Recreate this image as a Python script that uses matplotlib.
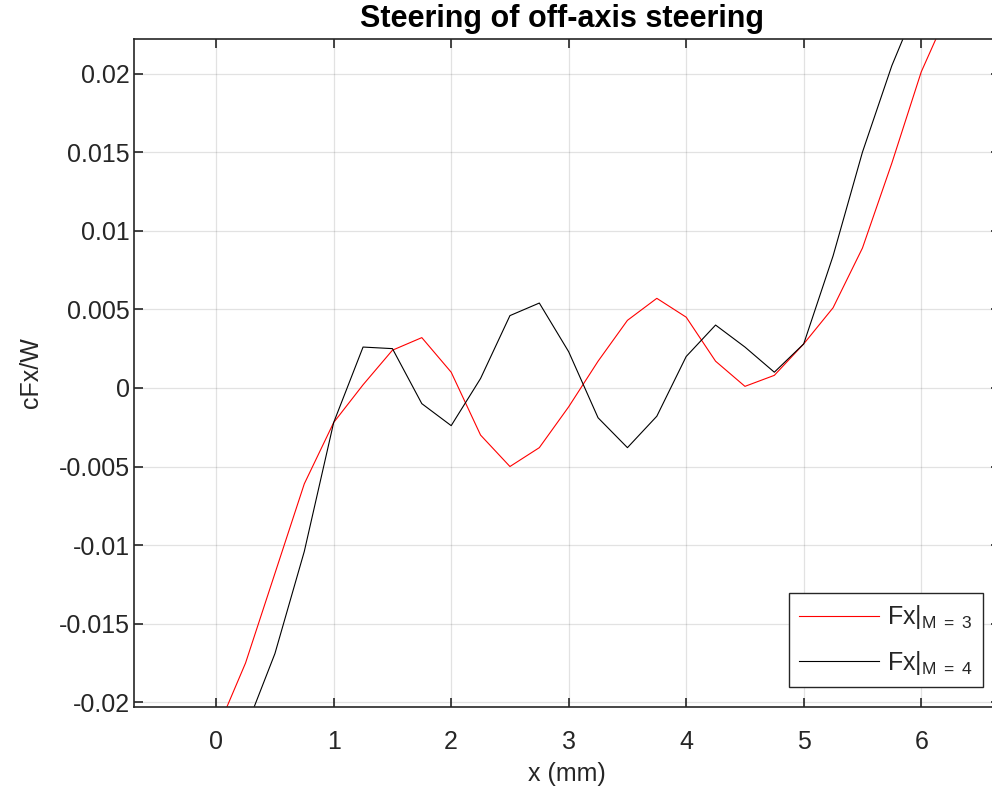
# plots the steering force coefficient against lateral offset

import matplotlib
matplotlib.use('Agg')
from matplotlib import pyplot as plot

# ***************************** Data *****************************
x_mm = [0.0, 0.25, 0.5, 0.75, 1.0, 1.25, 1.5, 1.75, 2.0, 2.25, 2.5, 2.75, 3.0,
        3.25, 3.5, 3.75, 4.0, 4.25, 4.5, 4.75, 5.0, 5.25, 5.5, 5.75, 6.0, 6.25]

fx_m3 = [-0.0219, -0.0175, -0.0118, -0.0061, -0.0022, 0.0002, 0.0024, 0.0032,
         0.0010, -0.0030, -0.0050, -0.0038, -0.0012, 0.0017, 0.0043, 0.0057,
         0.0045, 0.0017, 0.0001, 0.0008, 0.0028, 0.0051, 0.0089, 0.0143,
         0.0201, 0.0243]

fx_m4 = [-0.0265, -0.0217, -0.0169, -0.0104, -0.0022, 0.0026, 0.0025, -0.0010,
         -0.0024, 0.0006, 0.0046, 0.0054, 0.0023, -0.0019, -0.0038, -0.0018,
         0.0020, 0.0040, 0.0026, 0.0010, 0.0028, 0.0084, 0.0150, 0.0205,
         0.0250, 0.0290]

y_ticks = [-0.02, -0.015, -0.01, -0.005, 0, 0.005, 0.01, 0.015, 0.02]
y_tick_labels = ['-0.02', '-0.015', '-0.01', '-0.005', '0', '0.005', '0.01', '0.015', '0.02']
x_ticks = [0, 1, 2, 3, 4, 5, 6]
# ****************************************************************

ink = '#262626'
plot.rcParams['font.family'] = ['Liberation Sans', 'DejaVu Sans']
plot.rcParams['mathtext.fontset'] = 'custom'
plot.rcParams['mathtext.rm'] = 'Liberation Sans'
plot.rcParams['mathtext.it'] = 'Liberation Sans'
plot.rcParams['font.size'] = 18

fig = plot.figure(figsize=(9.92, 7.92), dpi=100)
# axes run slightly past the right edge of the figure, so the right spine is cut off
ax0 = fig.add_axes([0.135, 0.1073, 0.873, 0.8435])

ax0.plot(x_mm, fx_m3, color='#ff0000', lw=0.8, label=r'Fx|$_{\mathrm{M\ =\ 3}}$')
ax0.plot(x_mm, fx_m4, color='#000000', lw=0.8, label=r'Fx|$_{\mathrm{M\ =\ 4}}$')

ax0.axis([-0.7, 6.67, -0.0203, 0.0222])     # [xmin, xmax, ymin, ymax]
ax0.set_xticks(x_ticks)
ax0.set_yticks(y_ticks)
ax0.set_yticklabels(y_tick_labels)
ax0.grid(True, color='#262626', alpha=0.13, lw=0.9)
ax0.set_axisbelow(True)
ax0.tick_params(direction='in', top=True, right=True, length=6.5, width=1.2,
                colors=ink, labelcolor=ink, labelsize=18)
ax0.tick_params(axis='x', pad=16.5)
ax0.tick_params(axis='y', pad=3)
for s in ax0.spines.values():
    s.set_color(ink)
    s.set_linewidth(1.2)

ax0.set_xlabel('x (mm)', color=ink, fontsize=18, labelpad=6)
ax0.set_ylabel('cFx/W', color=ink, fontsize=18, labelpad=11.5)
ax0.set_title('Steering of off-axis steering', fontweight='bold', fontsize=22,
              pad=8.6, x=0.494)

leg = ax0.legend(loc='lower right', bbox_to_anchor=(0.9804, 0.03), fontsize=18,
                 borderaxespad=0, handlelength=3.2, handletextpad=0.3,
                 borderpad=0.4, labelspacing=0.7,
                 fancybox=False, framealpha=1)
leg.get_frame().set_edgecolor(ink)
leg.get_frame().set_linewidth(1.0)
for t in leg.get_texts():
    t.set_color(ink)

fig.savefig('out.png', dpi=100)
